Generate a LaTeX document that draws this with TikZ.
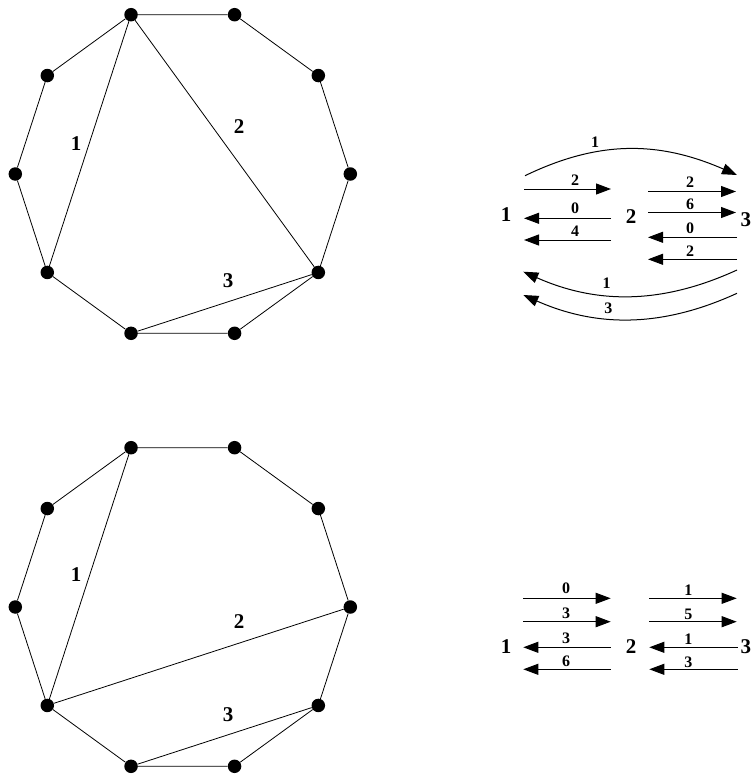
\documentclass[tikz,border=0pt]{standalone}
\usepackage{fontspec}
\setmainfont{Liberation Serif}
\usetikzlibrary{arrows.meta,calc}
\begin{document}
\begin{tikzpicture}[x=1pt,y=-1pt,
  dot/.style={circle,fill=black,inner sep=0pt,minimum size=13.5pt},
  edge/.style={line width=0.8pt},
  big/.style={font=\fontsize{21}{21}\selectfont\bfseries,inner sep=0pt},
  small/.style={font=\fontsize{16}{16}\selectfont\bfseries,inner sep=0pt},
  arr/.style={line width=1pt,-{Triangle[length=15pt,width=11pt]}},
]
\useasboundingbox (0,0) rectangle (752,776);
% decagon vertices
\foreach \k in {0,...,9}{
  \node[dot] (a\k) at ($(182.8,174)+({-36*\k}:167.5)$) {};
  \node[dot] (b\k) at ($(182.8,607)+({-36*\k}:167.5)$) {};
}
% top decagon
\draw[edge] (a0)--(a1)--(a2)--(a3)--(a4)--(a5)--(a6)--(a7)--(a8)--(a9)--(a0);
\draw[edge] (a3)--(a6);
\draw[edge] (a3)--(a9);
\draw[edge] (a7)--(a9);
\node[big] (ta1) at (76,144) {1};
\node[big] (ta2) at (239,127) {2};
\node[big] (ta3) at (228,281) {3};
% bottom decagon
\draw[edge] (b0)--(b1)--(b2)--(b3)--(b4)--(b5)--(b6)--(b7)--(b8)--(b9)--(b0);
\draw[edge] (b3)--(b6);
\draw[edge] (b6)--(b0);
\draw[edge] (b7)--(b9);
\node[big] (tb1) at (76,575) {1};
\node[big] (tb2) at (239,622) {2};
\node[big] (tb3) at (228,715) {3};

% ---------- top right ----------
\node[big] (p1) at (506,215) {1};
\node[big] (p2) at (631,216.5) {2};
\node[big,anchor=west] (p3) at (740.5,220) {3};
% left block
\coordinate (pl1s) at (524,189);   \coordinate (pl1e) at (611,189);
\coordinate (pl2s) at (611,218.3); \coordinate (pl2e) at (524,218.3);
\coordinate (pl3s) at (611,240);   \coordinate (pl3e) at (524,240);
\draw[arr] (pl1s) -- (pl1e);
\draw[arr] (pl2s) -- (pl2e);
\draw[arr] (pl3s) -- (pl3e);
\node[small] (pl1t) at (575,180) {2};
\node[small] (pl2t) at (575,208.5) {0};
\node[small] (pl3t) at (575,231.5) {4};
% right block
\coordinate (pr1s) at (648,191.5); \coordinate (pr1e) at (736,191.5);
\coordinate (pr2s) at (648,212.5); \coordinate (pr2e) at (736,212.5);
\coordinate (pr3s) at (737,237.3); \coordinate (pr3e) at (648,237.3);
\coordinate (pr4s) at (737,259.3); \coordinate (pr4e) at (648,259.3);
\draw[arr] (pr1s) -- (pr1e);
\draw[arr] (pr2s) -- (pr2e);
\draw[arr] (pr3s) -- (pr3e);
\draw[arr] (pr4s) -- (pr4e);
\node[small] (pr1t) at (690,182) {2};
\node[small] (pr2t) at (690,204.5) {6};
\node[small] (pr3t) at (690,228.5) {0};
\node[small] (pr4t) at (690,251.5) {2};
% curves
\coordinate (c1s) at (525,175.7); \coordinate (c1e) at (737,175);
\coordinate (c2s) at (737,270);   \coordinate (c2e) at (523.3,271.7);
\coordinate (c3s) at (737,293.3); \coordinate (c3e) at (523.3,295);
\draw[arr] (c1s) .. controls (598,140.5) and (658,140.5) .. (c1e);
\draw[arr] (c2s) .. controls (662,304.4) and (597,304.4) .. (c2e);
\draw[arr] (c3s) .. controls (662,327.6) and (597,327.6) .. (c3e);
\node[small] (c1t) at (595,142.3) {1};
\node[small] (c2t) at (606.7,283.3) {1};
\node[small] (c3t) at (608.3,308.3) {3};

% ---------- bottom right ----------
\node[big] (q1) at (506,646.7) {1};
\node[big] (q2) at (631,646.7) {2};
\node[big,anchor=west] (q3) at (740.5,646.7) {3};
\coordinate (ql1s) at (523.3,598.3); \coordinate (ql1e) at (610.7,598.3);
\coordinate (ql2s) at (523.3,621.7); \coordinate (ql2e) at (610.7,621.7);
\coordinate (ql3s) at (610.7,647.3); \coordinate (ql3e) at (523.3,647.3);
\coordinate (ql4s) at (610.7,669.3); \coordinate (ql4e) at (523.3,669.3);
\draw[arr] (ql1s) -- (ql1e);
\draw[arr] (ql2s) -- (ql2e);
\draw[arr] (ql3s) -- (ql3e);
\draw[arr] (ql4s) -- (ql4e);
\node[small] (ql1t) at (566,588.5) {0};
\node[small] (ql2t) at (566,613) {3};
\node[small] (ql3t) at (566,638.5) {3};
\node[small] (ql4t) at (566,661) {6};
\coordinate (qr1s) at (649.3,598.3); \coordinate (qr1e) at (736.7,598.3);
\coordinate (qr2s) at (649.3,621.7); \coordinate (qr2e) at (736.7,621.7);
\coordinate (qr3s) at (737.5,647.3); \coordinate (qr3e) at (649.3,647.3);
\coordinate (qr4s) at (737.5,669.3); \coordinate (qr4e) at (649.3,669.3);
\draw[arr] (qr1s) -- (qr1e);
\draw[arr] (qr2s) -- (qr2e);
\draw[arr] (qr3s) -- (qr3e);
\draw[arr] (qr4s) -- (qr4e);
\node[small] (qr1t) at (688.3,590) {1};
\node[small] (qr2t) at (688.3,614) {5};
\node[small] (qr3t) at (688.3,639) {1};
\node[small] (qr4t) at (688.3,662) {3};
\end{tikzpicture}
\end{document}
